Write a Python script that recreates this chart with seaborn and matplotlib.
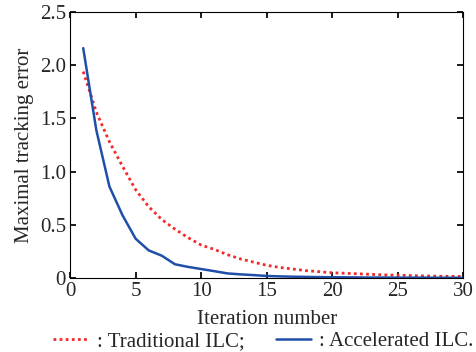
import matplotlib
matplotlib.use("Agg")
import matplotlib.pyplot as plt
import seaborn as sns
import pandas as pd

# Values
iterations = list(range(1, 31))
traditional = [1.94, 1.56, 1.28, 1.05, 0.83, 0.67, 0.55, 0.46, 0.38, 0.31,
               0.27, 0.22, 0.18, 0.15, 0.12, 0.10, 0.085, 0.07, 0.06, 0.05,
               0.045, 0.04, 0.035, 0.03, 0.027, 0.024, 0.02, 0.018, 0.016, 0.015]
accelerated = [2.16, 1.39, 0.86, 0.59, 0.37, 0.26, 0.21, 0.13, 0.105, 0.085,
               0.065, 0.044, 0.035, 0.028, 0.02, 0.016, 0.013, 0.011, 0.009, 0.008,
               0.007, 0.006, 0.005, 0.005, 0.004, 0.004, 0.004, 0.003, 0.003, 0.003]
x_ticks = [0, 5, 10, 15, 20, 25, 30]
y_ticks = [0, 0.5, 1.0, 1.5, 2.0, 2.5]
y_tick_labels = ["0", "0.5", "1.0", "1.5", "2.0", "2.5"]

df = pd.DataFrame({"iter": iterations, "trad": traditional, "acc": accelerated})

sns.set_theme(style="ticks")
plt.rcParams["font.family"] = ["Liberation Serif", "DejaVu Serif"]
plt.rcParams.update({"font.size": 15, "xtick.direction": "in", "ytick.direction": "in",
                     "axes.linewidth": 0.8})

fig = plt.figure(figsize=(4.77, 3.52), dpi=100)
ax = fig.add_axes([0.147, 0.21, 0.824, 0.756])

sns.lineplot(data=df, x="iter", y="trad", ax=ax, color="#f22a2a", linestyle=(0, (1, 1.2)),
             linewidth=2.0, label=": Traditional ILC;", legend=False)
sns.lineplot(data=df, x="iter", y="acc", ax=ax, color="#1f4fa8", linewidth=1.8,
             label=": Accelerated ILC.", legend=False)

ax.set_xlim(0, 30)
ax.set_ylim(0, 2.5)
ax.set_xticks(x_ticks)
ax.set_yticks(y_ticks)
ax.set_yticklabels(y_tick_labels)
ax.tick_params(top=True, right=True, labelsize=15, length=4, color="black", pad=3)
for s in ax.spines.values():
    s.set_color("black")
ax.set_xlabel("Iteration number", fontsize=15, labelpad=6)
ax.set_ylabel("Maximal tracking error", fontsize=15, labelpad=4)

handles, labels = ax.get_legend_handles_labels()
fig.legend(handles, labels, loc="lower center", bbox_to_anchor=(0.552, -0.05), ncol=2,
           frameon=False, fontsize=15, handlelength=1.7, handletextpad=0.4, columnspacing=1.5)

fig.savefig("out.png", dpi=100)
